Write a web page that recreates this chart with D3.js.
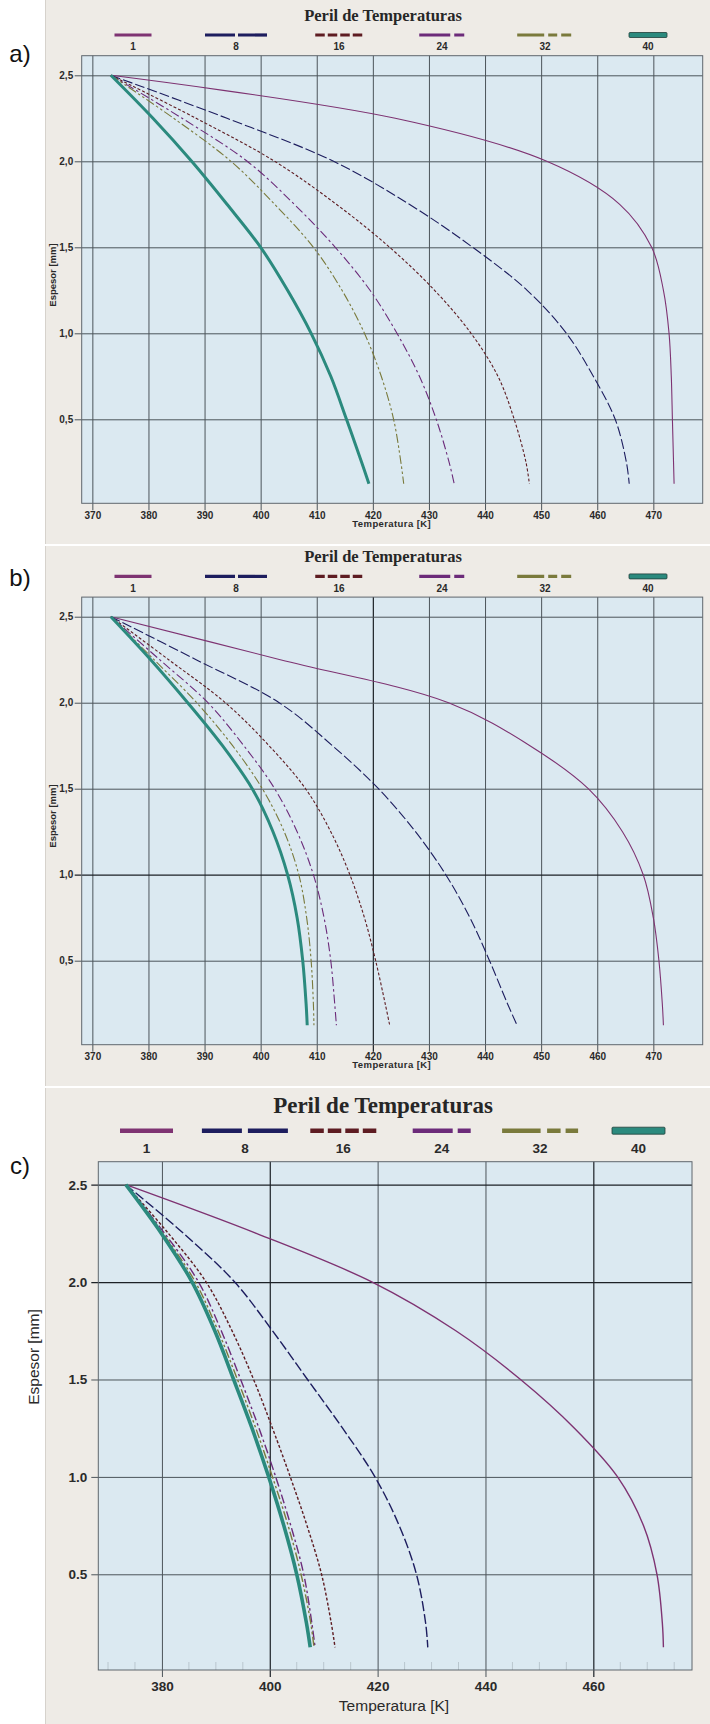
<!DOCTYPE html>
<html><head><meta charset="utf-8">
<script src="https://cdn.jsdelivr.net/npm/d3@7"></script>
<style>
html,body{margin:0;padding:0;background:#fff;}
svg{display:block;}
</style></head>
<body>
<svg id="chart" width="710" height="1724"></svg>
<script>
// ---- data ----
const seriesNames = ["1", "8", "16", "24", "32", "40"];
const depths = [2.5, 2.25, 2.0, 1.75, 1.5, 1.25, 1.0, 0.75, 0.5, 0.25, 0.125];

// panel a) temperatures [K] at each depth
const tempsA1  = [373.3, 424.0, 451.0, 464.0, 469.7, 471.8, 472.8, 473.2, 473.4, 473.6, 473.7];
const tempsA8  = [373.3, 394.0, 413.0, 426.5, 437.8, 447.5, 454.5, 459.3, 463.2, 465.2, 465.7];
const tempsA16 = [373.3, 388.5, 402.5, 413.5, 423.0, 431.0, 437.5, 442.3, 445.2, 447.3, 447.9];
const tempsA24 = [373.3, 386.0, 397.6, 406.0, 413.3, 419.5, 424.3, 428.3, 431.3, 433.6, 434.5];
const tempsA32 = [373.3, 384.5, 394.7, 402.5, 409.4, 414.5, 418.5, 421.5, 423.7, 425.0, 425.5];
const tempsA40 = [373.3, 380.8, 387.7, 394.0, 400.0, 404.8, 409.0, 412.5, 415.3, 418.0, 419.3];

// panel b)
const tempsB1  = [373.3, 403.5, 433.5, 448.0, 458.4, 464.5, 468.2, 470.0, 471.0, 471.6, 471.8];
const tempsB8  = [373.3, 388.5, 403.3, 412.8, 421.0, 427.6, 433.0, 437.3, 440.8, 444.0, 445.7];
const tempsB16 = [373.3, 383.6, 393.7, 401.5, 408.0, 412.5, 415.9, 418.5, 420.5, 422.2, 423.0];
const tempsB24 = [373.3, 382.0, 390.6, 397.0, 402.5, 406.5, 409.4, 411.3, 412.5, 413.2, 413.5];
const tempsB32 = [373.3, 381.0, 388.6, 395.0, 400.3, 404.2, 406.8, 408.2, 409.0, 409.4, 409.5];
const tempsB40 = [373.3, 380.4, 387.0, 393.2, 398.5, 402.2, 404.8, 406.5, 407.5, 408.1, 408.3];

// panel c)
const tempsC1  = [373.3, 397.5, 419.0, 434.5, 446.5, 456.5, 464.5, 469.3, 471.8, 472.8, 473.0];
const tempsC8  = [373.3, 384.0, 393.5, 400.5, 407.0, 413.5, 419.5, 424.0, 427.2, 428.9, 429.3];
const tempsC16 = [373.3, 381.2, 388.2, 393.0, 397.0, 400.5, 403.8, 406.9, 409.6, 411.4, 412.1];
const tempsC24 = [373.3, 380.5, 386.8, 391.0, 394.6, 398.0, 401.1, 403.9, 406.3, 407.8, 408.4];
const tempsC32 = [373.3, 380.2, 386.2, 390.4, 394.0, 397.4, 400.5, 403.4, 405.8, 407.6, 408.2];
const tempsC40 = [373.3, 379.9, 385.6, 389.8, 393.3, 396.7, 399.8, 402.6, 405.0, 406.8, 407.5];

const xTicksFine = [370, 380, 390, 400, 410, 420, 430, 440, 450, 460, 470];
const xTicksWide = [380, 400, 420, 440, 460];
const yTicks = [0.5, 1.0, 1.5, 2.0, 2.5];

const chartTitle = "Peril de Temperaturas";
const xAxisTitle = "Temperatura [K]";
const yAxisTitle = "Espesor [mm]";

// ---- styles ----
const seriesColor = ["#7e3372", "#1d1d5e", "#5e1c22", "#6c2b7a", "#7a7a3c", "#2b8a7e"];
const seriesDash  = [null, "10 3", "3 2", "9 3 2.5 3", "9 2.5 2.5 2.5 2.5 2.5", null];
const legendDashSmall = [null, "30 3", "9.5 3", "31 4 10 100", "27 4 9 4 10 100", null];
const legendDashBig   = [null, "40 6", "13.5 4", "40 5 13 100", "38.5 6.5 13.5 5 12.5 100", null];
const legendWidthSmall = [37, 62, 47.5, 45.5, 55.6, 38];
const legendWidthBig   = [53, 86, 66, 58, 76, 53];

const panels = [
  { letter: "a)", letterY: 53, temps: [tempsA1, tempsA8, tempsA16, tempsA24, tempsA32, tempsA40],
    bg: [0, 544], plot: { x0: 81.7, x1: 702.7, y0: 55.7, y1: 503.3 },
    xDom: [368.1, 478.8], yDom: [0.0116, 2.614], xTicks: xTicksFine, big: false,
    titleY: 15, legendY: 35, legendLabelY: 46.7, legendX0: 133, legendStep: 103,
    xTitleY: 523.3, yTitleX: 52, yTitleY: 275, strongX: [], strongY: [] },
  { letter: "b)", letterY: 577, temps: [tempsB1, tempsB8, tempsB16, tempsB24, tempsB32, tempsB40],
    bg: [546, 1086], plot: { x0: 81.7, x1: 702.7, y0: 597.1, y1: 1044.7 },
    xDom: [368.1, 478.8], yDom: [0.0116, 2.614], xTicks: xTicksFine, big: false,
    titleY: 556.4, legendY: 576.4, legendLabelY: 588.1, legendX0: 133, legendStep: 103,
    xTitleY: 1064.7, yTitleX: 52, yTitleY: 816, strongX: [420], strongY: [1.0] },
  { letter: "c)", letterY: 1165, temps: [tempsC1, tempsC8, tempsC16, tempsC24, tempsC32, tempsC40],
    bg: [1088, 1724], plot: { x0: 98.3, x1: 692, y0: 1161.7, y1: 1670 },
    xDom: [368.2, 478.3], yDom: [0.0087, 2.618], xTicks: xTicksWide, big: true,
    titleY: 1105, legendY: 1130.7, legendLabelY: 1148.5, legendX0: 146.5, legendStep: 98.4,
    xTitleY: 1705.7, yTitleX: 33, yTitleY: 1357, strongX: [400, 460], strongY: [2.0, 2.5] }
];

const svg = d3.select("#chart");
const defs = svg.append("defs");

panels.forEach((p, pi) => {
  const g = svg.append("g");
  const big = p.big;

  // paper background of the panel
  g.append("rect").attr("x", 45).attr("y", p.bg[0]).attr("width", 665).attr("height", p.bg[1] - p.bg[0])
    .attr("fill", "#eeebe6");
  g.append("line").attr("x1", 45.5).attr("x2", 45.5).attr("y1", p.bg[0]).attr("y2", p.bg[1])
    .attr("stroke", "#d6d2cc").attr("stroke-width", 1);

  const x = d3.scaleLinear().domain(p.xDom).range([p.plot.x0, p.plot.x1]);
  const y = d3.scaleLinear().domain(p.yDom).range([p.plot.y1, p.plot.y0]);
  const w = p.plot.x1 - p.plot.x0, h = p.plot.y1 - p.plot.y0;

  // plot area
  g.append("rect").attr("x", p.plot.x0).attr("y", p.plot.y0).attr("width", w).attr("height", h)
    .attr("fill", "#dbe9f1");

  // faint minor ticks along the bottom
  if (big) {
    const minor = d3.range(370, 478, 5).filter(v => !p.xTicks.includes(v));
    g.append("g").selectAll("line").data(minor).join("line")
      .attr("x1", d => x(d)).attr("x2", d => x(d))
      .attr("y1", p.plot.y1).attr("y2", p.plot.y1 - 8)
      .attr("stroke", "#b9c6ce").attr("stroke-width", 1);
  }

  const tickFont = big ? "bold 13.5px 'Liberation Sans', Arial, sans-serif" : "bold 10px 'Liberation Sans', Arial, sans-serif";
  const fmt = big ? d3.format(".1f") : (d => d3.format(".1f")(d).replace(".", ","));

  // vertical grid + x axis
  const xAxis = d3.axisBottom(x).tickValues(p.xTicks).tickFormat(d3.format("d"))
    .tickSizeInner(-(h + 7)).tickSizeOuter(0).tickPadding(big ? 4 : 1.5);
  const gx = g.append("g").attr("transform", `translate(0,${p.plot.y1 + 7})`).call(xAxis);
  gx.select(".domain").remove();
  gx.selectAll(".tick line")
    .attr("stroke", d => p.strongX.includes(d) ? "#1c2126" : "#4c545a")
    .attr("stroke-width", d => p.strongX.includes(d) ? 1.2 : 1);
  gx.selectAll(".tick text").style("font", tickFont).attr("fill", "#2a2a2a");

  // horizontal grid + y axis
  const yAxis = d3.axisLeft(y).tickValues(yTicks).tickFormat(fmt)
    .tickSizeInner(-(w + 7)).tickSizeOuter(0).tickPadding(big ? 4 : 1.5);
  const gy = g.append("g").attr("transform", `translate(${p.plot.x0 - 7},0)`).call(yAxis);
  gy.select(".domain").remove();
  gy.selectAll(".tick line")
    .attr("stroke", d => p.strongY.includes(d) ? "#1c2126" : "#4c545a")
    .attr("stroke-width", d => p.strongY.includes(d) ? 1.2 : 1);
  gy.selectAll(".tick text").style("font", tickFont).attr("fill", "#2a2a2a");

  // plot border
  g.append("rect").attr("x", p.plot.x0).attr("y", p.plot.y0).attr("width", w).attr("height", h)
    .attr("fill", "none").attr("stroke", "#5f676d").attr("stroke-width", 1);

  // curves
  const clipId = "clip" + pi;
  defs.append("clipPath").attr("id", clipId).append("rect")
    .attr("x", p.plot.x0).attr("y", p.plot.y0).attr("width", w).attr("height", h);
  const line = d3.line().x(d => x(d[0])).y(d => y(d[1])).curve(d3.curveCatmullRom.alpha(0.5));
  const cg = g.append("g").attr("clip-path", `url(#${clipId})`);
  p.temps.forEach((arr, si) => {
    const pts = arr.map((t, k) => [t, depths[k]]);
    cg.append("path").attr("d", line(pts)).attr("fill", "none")
      .attr("stroke", seriesColor[si])
      .attr("stroke-width", si === 5 ? (big ? 3.6 : 3) : (big ? 1.4 : 1.1))
      .attr("stroke-dasharray", seriesDash[si]);
  });

  // title
  g.append("text").attr("x", 383).attr("y", p.titleY).attr("text-anchor", "middle")
    .attr("dominant-baseline", "central")
    .style("font", big ? "bold 23px 'Liberation Serif', 'Times New Roman', serif" : "bold 16.5px 'Liberation Serif', 'Times New Roman', serif")
    .attr("fill", "#262626").text(chartTitle);

  // legend
  const lw = big ? legendWidthBig : legendWidthSmall;
  const ld = big ? legendDashBig : legendDashSmall;
  seriesNames.forEach((name, si) => {
    const cx = p.legendX0 + si * p.legendStep;
    if (si === 5) {
      g.append("rect").attr("x", cx - lw[si] / 2).attr("y", p.legendY - (big ? 3.5 : 2.5))
        .attr("width", lw[si]).attr("height", big ? 7 : 5).attr("rx", 1)
        .attr("fill", seriesColor[si]).attr("stroke", "#1f3f3a").attr("stroke-width", 0.8);
    } else {
      g.append("line").attr("x1", cx - lw[si] / 2).attr("x2", cx + lw[si] / 2)
        .attr("y1", p.legendY).attr("y2", p.legendY)
        .attr("stroke", seriesColor[si]).attr("stroke-width", big ? 4.5 : 3.2)
        .attr("stroke-dasharray", ld[si]);
    }
    g.append("text").attr("x", cx).attr("y", p.legendLabelY).attr("text-anchor", "middle")
      .attr("dominant-baseline", "central")
      .style("font", big ? "bold 13.5px 'Liberation Sans', Arial, sans-serif" : "bold 10px 'Liberation Sans', Arial, sans-serif")
      .attr("fill", "#2a2a2a").text(name);
  });

  // axis titles
  g.append("text").attr("x", big ? 394 : 391.7).attr("y", p.xTitleY).attr("text-anchor", "middle")
    .attr("dominant-baseline", "central")
    .style("font", big ? "15.5px 'Liberation Sans', Arial, sans-serif" : "bold 9.5px 'Liberation Sans', Arial, sans-serif")
    .style("letter-spacing", big ? "0px" : "0.4px")
    .attr("fill", "#2a2a2a").text(xAxisTitle);
  g.append("text").attr("transform", `translate(${p.yTitleX},${p.yTitleY}) rotate(-90)`)
    .attr("text-anchor", "middle").attr("dominant-baseline", "central")
    .style("font", big ? "15.5px 'Liberation Sans', Arial, sans-serif" : "bold 9.5px 'Liberation Sans', Arial, sans-serif")
    .attr("fill", "#2a2a2a").text(yAxisTitle);

  // panel letter
  svg.append("text").attr("x", 20).attr("y", p.letterY).attr("text-anchor", "middle")
    .attr("dominant-baseline", "central")
    .style("font", "24px 'Liberation Sans', Arial, sans-serif").attr("fill", "#111").text(p.letter);
});
</script>
</body></html>
